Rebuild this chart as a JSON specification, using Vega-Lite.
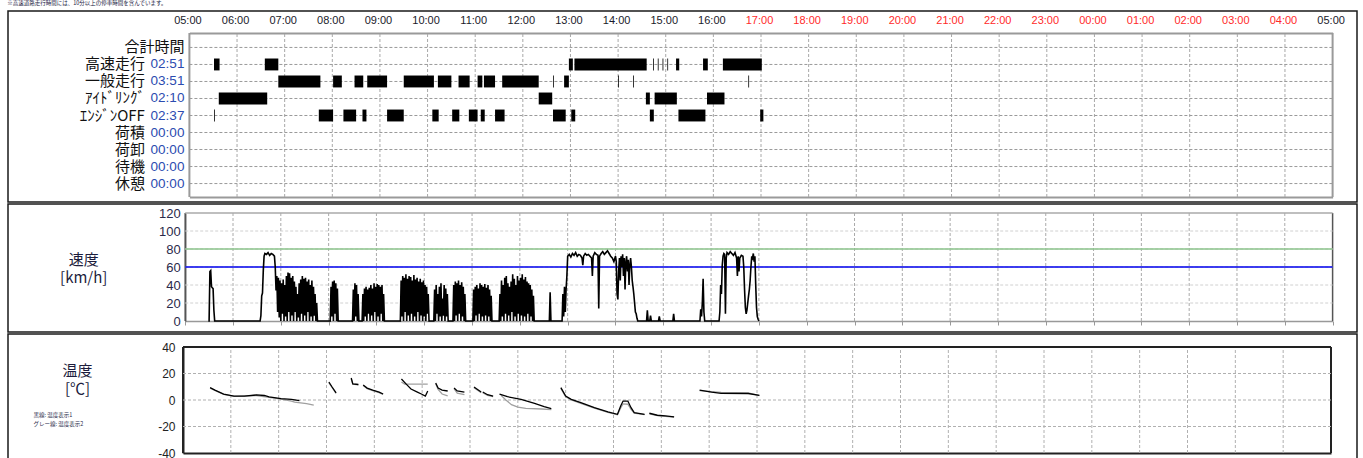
{
  "$schema": "https://vega.github.io/schema/vega-lite/v6.json",
  "padding": {"left": 7, "top": 0, "right": 0, "bottom": 0},
  "title": {"text": "※高速道路走行時間には、10分以上の停車時間を含んでいます。", "fontSize": 5.5, "font": "Noto Sans CJK JP", "fontWeight": "normal", "anchor": "start", "offset": 4, "color": "#202040"},
  "spacing": 0,
  "resolve": {"scale": {"x": "independent", "y": "independent", "color": "independent"}},
  "config": {
    "view": {"stroke": "#1a1a1a", "strokeWidth": 1.5},
    "font": "Liberation Sans",
    "axis": {"labelFont": "Liberation Sans", "titleFont": "Noto Sans CJK JP", "labelOverlap": false, "labelFlush": false, "labelBound": false}
  },
  "datasets": {
    "hours": [
      {"m": 300}, {"m": 360}, {"m": 420}, {"m": 480}, {"m": 540}, {"m": 600}, {"m": 660}, {"m": 720}, {"m": 780}, {"m": 840}, {"m": 900}, {"m": 960}, {"m": 1020},
      {"m": 1080}, {"m": 1140}, {"m": 1200}, {"m": 1260}, {"m": 1320}, {"m": 1380}, {"m": 1440}, {"m": 1500}, {"m": 1560}, {"m": 1620}, {"m": 1680}, {"m": 1740}
    ]
  },
  "vconcat": [
    {
      "width": 1349,
      "height": 191,
      "resolve": {"scale": {"y": "independent"}, "axis": {"x": "independent", "y": "independent"}},
      "layer": [
        {
          "data": {"name": "hours"},
          "mark": {"type": "rule"},
          "encoding": {
            "x": {
              "field": "m", "type": "quantitative",
              "scale": {"domain": [300, 1740], "range": [181.4, 1324.6], "nice": false, "zero": false},
              "axis": {"orient": "bottom", "offset": -5, "title": null, "labels": false, "ticks": false, "grid": false, "domainColor": "#9a9a9a", "domainWidth": 2}
            },
            "y": {"datum": 0, "type": "quantitative", "scale": {"domain": [0, 1], "range": [186, 22], "nice": false}, "axis": null},
            "y2": {"datum": 1},
            "color": {"condition": {"test": "datum.m == 300 || datum.m == 1740", "value": "#9a9a9a"}, "value": "#a8a8a8"},
            "strokeDash": {"condition": {"test": "datum.m == 300 || datum.m == 1740", "value": [1, 0]}, "value": [3, 2]},
            "strokeWidth": {"condition": {"test": "datum.m == 300 || datum.m == 1740", "value": 2}, "value": 1}
          }
        },
        {
          "resolve": {"axis": {"x": "independent", "y": "independent"}},
          "layer": [
            {
              "data": {"values": [
                {"label": "合計時間"},
                {"label": "高速走行 02:51"},
                {"label": "一般走行 03:51"},
                {"label": "ｱｲﾄﾞﾘﾝｸﾞ 02:10"},
                {"label": "ｴﾝｼﾞﾝOFF 02:37"},
                {"label": "荷積 00:00"},
                {"label": "荷卸 00:00"},
                {"label": "待機 00:00"},
                {"label": "休憩 00:00"}
              ]},
              "mark": {"type": "rule", "color": "#9a9a9a", "strokeDash": [3, 2], "strokeWidth": 1},
              "encoding": {
                "y": {
                  "field": "label", "type": "nominal",
                  "scale": {"type": "band", "domain": ["合計時間", "高速走行 02:51", "一般走行 03:51", "ｱｲﾄﾞﾘﾝｸﾞ 02:10", "ｴﾝｼﾞﾝOFF 02:37", "荷積 00:00", "荷卸 00:00", "待機 00:00", "休憩 00:00"], "range": [22.5, 186.5], "paddingInner": 0.3, "paddingOuter": 0.47},
                  "axis": {
                    "orient": "left", "offset": -181.4, "title": null, "domain": false, "ticks": false, "grid": false,
                    "labelPadding": 5.5,
                    "labelExpr": "indexof(datum.value, ' ') > 0 ? split(datum.value, ' ')[1] : datum.value",
                    "labelFont": {"condition": {"test": "indexof(datum.value, ' ') > 0", "value": "Liberation Sans"}, "value": "Noto Sans CJK JP"},
                    "labelFontSize": {"condition": {"test": "indexof(datum.value, ' ') > 0", "value": 13.5}, "value": 15},
                    "labelColor": {"condition": {"test": "indexof(datum.value, ' ') > 0", "value": "#2b4bb0"}, "value": "#111111"}
                  }
                },
                "x": {"datum": 300, "type": "quantitative", "axis": null},
                "x2": {"datum": 1740}
              }
            },
            {
              "data": {
                "values": [
                  {"label": "高速走行 02:51", "from": 331, "to": 338},
                  {"label": "高速走行 02:51", "from": 395, "to": 412},
                  {"label": "高速走行 02:51", "from": 778, "to": 783},
                  {"label": "高速走行 02:51", "from": 785, "to": 876},
                  {"label": "高速走行 02:51", "from": 884, "to": 885},
                  {"label": "高速走行 02:51", "from": 890, "to": 891},
                  {"label": "高速走行 02:51", "from": 896, "to": 897},
                  {"label": "高速走行 02:51", "from": 902, "to": 903},
                  {"label": "高速走行 02:51", "from": 913, "to": 917},
                  {"label": "高速走行 02:51", "from": 947, "to": 953},
                  {"label": "高速走行 02:51", "from": 972, "to": 1021},
                  {"label": "一般走行 03:51", "from": 412, "to": 465},
                  {"label": "一般走行 03:51", "from": 481, "to": 492},
                  {"label": "一般走行 03:51", "from": 508, "to": 519},
                  {"label": "一般走行 03:51", "from": 524, "to": 549},
                  {"label": "一般走行 03:51", "from": 570, "to": 608},
                  {"label": "一般走行 03:51", "from": 613, "to": 630},
                  {"label": "一般走行 03:51", "from": 639, "to": 653},
                  {"label": "一般走行 03:51", "from": 663, "to": 669},
                  {"label": "一般走行 03:51", "from": 671, "to": 685},
                  {"label": "一般走行 03:51", "from": 694, "to": 740},
                  {"label": "一般走行 03:51", "from": 758, "to": 759},
                  {"label": "一般走行 03:51", "from": 772, "to": 778},
                  {"label": "一般走行 03:51", "from": 840, "to": 841},
                  {"label": "一般走行 03:51", "from": 859, "to": 860},
                  {"label": "一般走行 03:51", "from": 1004, "to": 1005},
                  {"label": "ｱｲﾄﾞﾘﾝｸﾞ 02:10", "from": 337, "to": 398},
                  {"label": "ｱｲﾄﾞﾘﾝｸﾞ 02:10", "from": 740, "to": 757},
                  {"label": "ｱｲﾄﾞﾘﾝｸﾞ 02:10", "from": 875, "to": 880},
                  {"label": "ｱｲﾄﾞﾘﾝｸﾞ 02:10", "from": 886, "to": 914},
                  {"label": "ｱｲﾄﾞﾘﾝｸﾞ 02:10", "from": 952, "to": 974},
                  {"label": "ｴﾝｼﾞﾝOFF 02:37", "from": 331, "to": 332},
                  {"label": "ｴﾝｼﾞﾝOFF 02:37", "from": 463, "to": 481},
                  {"label": "ｴﾝｼﾞﾝOFF 02:37", "from": 494, "to": 510},
                  {"label": "ｴﾝｼﾞﾝOFF 02:37", "from": 518, "to": 523},
                  {"label": "ｴﾝｼﾞﾝOFF 02:37", "from": 549, "to": 570},
                  {"label": "ｴﾝｼﾞﾝOFF 02:37", "from": 606, "to": 614},
                  {"label": "ｴﾝｼﾞﾝOFF 02:37", "from": 631, "to": 640},
                  {"label": "ｴﾝｼﾞﾝOFF 02:37", "from": 652, "to": 663},
                  {"label": "ｴﾝｼﾞﾝOFF 02:37", "from": 667, "to": 672},
                  {"label": "ｴﾝｼﾞﾝOFF 02:37", "from": 685, "to": 697},
                  {"label": "ｴﾝｼﾞﾝOFF 02:37", "from": 758, "to": 774},
                  {"label": "ｴﾝｼﾞﾝOFF 02:37", "from": 781, "to": 786},
                  {"label": "ｴﾝｼﾞﾝOFF 02:37", "from": 880, "to": 885},
                  {"label": "ｴﾝｼﾞﾝOFF 02:37", "from": 916, "to": 950},
                  {"label": "ｴﾝｼﾞﾝOFF 02:37", "from": 1019, "to": 1023}
                ]
              },
              "mark": {"type": "bar", "color": "#000000"},
              "encoding": {
                "x": {
                  "field": "from", "type": "quantitative",
                  "axis": {
                    "orient": "top", "offset": -22, "title": null,
                    "values": [300, 360, 420, 480, 540, 600, 660, 720, 780, 840, 900, 960, 1020, 1080, 1140, 1200, 1260, 1320, 1380, 1440, 1500, 1560, 1620, 1680, 1740],
                    "labelExpr": "format(floor(datum.value / 60) % 24, '02d') + ':00'",
                    "ticks": false, "grid": false, "labelPadding": 8, "labelFontSize": 11, "labelOffset": -2,
                    "labelColor": {"condition": {"test": "datum.value >= 1020 && datum.value < 1740", "value": "#ff2a2a"}, "value": "#1a1a2a"},
                    "domainColor": "#9a9a9a", "domainWidth": 2
                  }
                },
                "x2": {"field": "to"},
                "y": {
                  "field": "label", "type": "nominal",
                  "axis": {
                    "orient": "left", "offset": -181.4, "title": null, "domain": false, "ticks": false, "grid": false,
                    "labelPadding": 45,
                    "labelExpr": "indexof(datum.value, ' ') > 0 ? split(datum.value, ' ')[0] : ''",
                    "labelFont": "Noto Sans CJK JP", "labelFontSize": 15, "labelColor": "#111111"
                  }
                }
              }
            }
          ]
        }
      ]
    },
    {
      "width": 1349,
      "height": 128,
      "resolve": {"axis": {"x": "independent", "y": "independent"}},
      "layer": [
        {
          "data": {"name": "hours"},
          "mark": {"type": "rule"},
          "encoding": {
            "x": {
              "field": "m", "type": "quantitative",
              "scale": {"domain": [300, 1740], "range": [177.2, 1324.6], "nice": false, "zero": false},
              "axis": {
                "orient": "bottom", "offset": -11, "title": null, "labels": false, "grid": false,
                "values": [300, 360, 420, 480, 540, 600, 660, 720, 780, 840, 900, 960, 1020, 1080, 1140, 1200, 1260, 1320, 1380, 1440, 1500, 1560, 1620, 1680, 1740],
                "ticks": true, "tickSize": 4, "tickColor": "#999999",
                "domainColor": "#999999", "domainWidth": 1.5
              }
            },
            "y": {"datum": 0, "type": "quantitative", "scale": {"domain": [0, 120], "range": [117, 9], "nice": false}, "axis": null},
            "y2": {"datum": 120},
            "color": {"condition": {"test": "datum.m == 300 || datum.m == 1740", "value": "#555555"}, "value": "#aaaaaa"},
            "strokeDash": {"condition": {"test": "datum.m == 300 || datum.m == 1740", "value": [1, 0]}, "value": [3, 2]},
            "strokeWidth": {"condition": {"test": "datum.m == 300 || datum.m == 1740", "value": 1.5}, "value": 1}
          }
        },
        {
          "data": {"values": [{"v": 20}, {"v": 40}, {"v": 60}, {"v": 80}, {"v": 100}, {"v": 120}]},
          "mark": {"type": "rule"},
          "encoding": {
            "y": {
              "field": "v", "type": "quantitative",
              "axis": {
                "orient": "left", "offset": -177.2, "values": [0, 20, 40, 60, 80, 100, 120], "grid": false,
                "ticks": false, "labelPadding": 5, "labelFontSize": 13, "labelColor": "#2a2a4a",
                "domainColor": "#555555", "domainWidth": 1.5,
                "title": ["速度", "[km/h]"], "titleAngle": 0, "titleAlign": "center", "titleBaseline": "top",
                "titleX": -102, "titleY": 48, "titleFontSize": 15, "titleFontWeight": "normal", "titleLineHeight": 18, "titleColor": "#1c1c3c"
              }
            },
            "x": {"datum": 300, "type": "quantitative", "axis": null},
            "x2": {"datum": 1740},
            "color": {"condition": {"test": "datum.v == 120", "value": "#aaaaaa"}, "value": "#d0d0d0"},
            "strokeDash": {"condition": {"test": "datum.v == 120", "value": [1, 0]}, "value": [3, 2]},
            "strokeWidth": {"condition": {"test": "datum.v == 120", "value": 1.5}, "value": 1}
          }
        },
        {
          "data": {"values": [{"limit": 80}, {"limit": 60}]},
          "mark": {"type": "rule", "strokeWidth": 1.7},
          "encoding": {
            "y": {"field": "limit", "type": "quantitative", "axis": null},
            "x": {"datum": 300, "type": "quantitative", "axis": null},
            "x2": {"datum": 1740},
            "color": {"field": "limit", "type": "nominal", "scale": {"domain": [80, 60], "range": ["#8cc48c", "#0000ee"]}, "legend": null}
          }
        },
        {
          "data": {
            "values": [
              {"m":329,"v":0},{"m":330,"v":0},{"m":331,"v":55},{"m":332,"v":56},{"m":333,"v":38},{"m":334,"v":37},{"m":335,"v":36},{"m":336,"v":12},{"m":337,"v":0},
              {"m":394,"v":0},{"m":395,"v":6},{"m":396,"v":28},{"m":397,"v":31},{"m":398,"v":56},{"m":399,"v":72},{"m":400,"v":75},{"m":402,"v":74},{"m":404,"v":76},{"m":406,"v":73},{"m":408,"v":75},{"m":410,"v":74},{"m":412,"v":72},{"m":413,"v":60},{"m":414,"v":34},{"m":415,"v":50},
              {"m":416,"v":10},{"m":417,"v":48},{"m":418,"v":4},{"m":419,"v":45},{"m":420,"v":0},{"m":421,"v":42},{"m":422,"v":8},{"m":423,"v":46},{"m":424,"v":0},{"m":425,"v":40},{"m":426,"v":5},{"m":427,"v":50},{"m":428,"v":0},{"m":429,"v":54},{"m":430,"v":10},{"m":431,"v":53},{"m":432,"v":0},{"m":433,"v":48},{"m":434,"v":6},{"m":435,"v":50},{"m":436,"v":0},{"m":437,"v":44},{"m":438,"v":10},{"m":439,"v":38},{"m":440,"v":0},{"m":441,"v":30},{"m":442,"v":4},{"m":443,"v":42},{"m":444,"v":0},{"m":445,"v":46},{"m":446,"v":8},{"m":447,"v":50},{"m":448,"v":0},{"m":449,"v":47},{"m":450,"v":6},{"m":451,"v":48},{"m":452,"v":0},{"m":453,"v":44},{"m":454,"v":10},{"m":455,"v":46},{"m":456,"v":0},{"m":457,"v":40},{"m":458,"v":5},{"m":459,"v":45},{"m":460,"v":0},{"m":461,"v":38},{"m":462,"v":6},{"m":463,"v":30},{"m":464,"v":0},{"m":465,"v":20},{"m":466,"v":0},
              {"m":482,"v":0},{"m":483,"v":38},{"m":484,"v":5},{"m":485,"v":44},{"m":486,"v":0},{"m":487,"v":45},{"m":488,"v":8},{"m":489,"v":42},{"m":490,"v":0},{"m":491,"v":36},{"m":492,"v":0},
              {"m":510,"v":0},{"m":511,"v":35},{"m":512,"v":0},{"m":513,"v":42},{"m":514,"v":5},{"m":515,"v":40},{"m":516,"v":0},{"m":517,"v":30},{"m":518,"v":0},
              {"m":522,"v":0},{"m":523,"v":30},{"m":524,"v":0},{"m":525,"v":36},{"m":526,"v":5},{"m":527,"v":38},{"m":528,"v":0},{"m":529,"v":35},{"m":530,"v":8},{"m":531,"v":37},{"m":532,"v":0},{"m":533,"v":40},{"m":534,"v":6},{"m":535,"v":36},{"m":536,"v":0},{"m":537,"v":42},{"m":538,"v":10},{"m":539,"v":38},{"m":540,"v":0},{"m":541,"v":41},{"m":542,"v":5},{"m":543,"v":40},{"m":544,"v":0},{"m":545,"v":38},{"m":546,"v":8},{"m":547,"v":40},{"m":548,"v":0},{"m":549,"v":30},{"m":550,"v":0},
              {"m":570,"v":0},{"m":571,"v":45},{"m":572,"v":5},{"m":573,"v":50},{"m":574,"v":0},{"m":575,"v":48},{"m":576,"v":10},{"m":577,"v":52},{"m":578,"v":0},{"m":579,"v":47},{"m":580,"v":6},{"m":581,"v":50},{"m":582,"v":0},{"m":583,"v":49},{"m":584,"v":8},{"m":585,"v":45},{"m":586,"v":0},{"m":587,"v":51},{"m":588,"v":5},{"m":589,"v":46},{"m":590,"v":0},{"m":591,"v":48},{"m":592,"v":10},{"m":593,"v":44},{"m":594,"v":0},{"m":595,"v":47},{"m":596,"v":6},{"m":597,"v":43},{"m":598,"v":0},{"m":599,"v":45},{"m":600,"v":5},{"m":601,"v":40},{"m":602,"v":0},{"m":603,"v":38},{"m":604,"v":8},{"m":605,"v":30},{"m":606,"v":0},
              {"m":612,"v":0},{"m":613,"v":35},{"m":614,"v":0},{"m":615,"v":40},{"m":616,"v":8},{"m":617,"v":30},{"m":618,"v":0},{"m":619,"v":38},{"m":620,"v":5},{"m":621,"v":42},{"m":622,"v":0},{"m":623,"v":25},{"m":624,"v":6},{"m":625,"v":40},{"m":626,"v":0},{"m":627,"v":36},{"m":628,"v":5},{"m":629,"v":30},{"m":630,"v":0},
              {"m":636,"v":0},{"m":637,"v":40},{"m":638,"v":0},{"m":639,"v":44},{"m":640,"v":6},{"m":641,"v":42},{"m":642,"v":0},{"m":643,"v":45},{"m":644,"v":8},{"m":645,"v":40},{"m":646,"v":0},{"m":647,"v":43},{"m":648,"v":5},{"m":649,"v":38},{"m":650,"v":0},{"m":651,"v":30},{"m":652,"v":0},
              {"m":661,"v":0},{"m":662,"v":35},{"m":663,"v":0},{"m":664,"v":38},{"m":665,"v":6},{"m":666,"v":40},{"m":667,"v":0},{"m":668,"v":36},{"m":669,"v":8},{"m":670,"v":42},{"m":671,"v":0},{"m":672,"v":40},{"m":673,"v":5},{"m":674,"v":38},{"m":675,"v":0},{"m":676,"v":41},{"m":677,"v":6},{"m":678,"v":37},{"m":679,"v":0},{"m":680,"v":40},{"m":681,"v":5},{"m":682,"v":35},{"m":683,"v":0},{"m":684,"v":28},{"m":685,"v":0},
              {"m":694,"v":0},{"m":695,"v":30},{"m":696,"v":0},{"m":697,"v":45},{"m":698,"v":5},{"m":699,"v":40},{"m":700,"v":0},{"m":701,"v":48},{"m":702,"v":8},{"m":703,"v":50},{"m":704,"v":0},{"m":705,"v":42},{"m":706,"v":6},{"m":707,"v":38},{"m":708,"v":0},{"m":709,"v":44},{"m":710,"v":10},{"m":711,"v":52},{"m":712,"v":0},{"m":713,"v":47},{"m":714,"v":5},{"m":715,"v":40},{"m":716,"v":0},{"m":717,"v":50},{"m":718,"v":8},{"m":719,"v":45},{"m":720,"v":0},{"m":721,"v":48},{"m":722,"v":6},{"m":723,"v":52},{"m":724,"v":0},{"m":725,"v":46},{"m":726,"v":5},{"m":727,"v":49},{"m":728,"v":0},{"m":729,"v":44},{"m":730,"v":8},{"m":731,"v":42},{"m":732,"v":0},{"m":733,"v":40},{"m":734,"v":5},{"m":735,"v":35},{"m":736,"v":0},{"m":737,"v":28},{"m":738,"v":0},
              {"m":757,"v":0},{"m":758,"v":32},{"m":759,"v":0},
              {"m":773,"v":0},{"m":774,"v":30},{"m":775,"v":5},{"m":776,"v":38},{"m":777,"v":10},{"m":778,"v":35},{"m":779,"v":50},{"m":780,"v":72},{"m":782,"v":74},{"m":784,"v":71},{"m":786,"v":75},{"m":788,"v":73},{"m":790,"v":76},{"m":792,"v":72},{"m":794,"v":74},{"m":796,"v":73},{"m":798,"v":70},{"m":799,"v":62},{"m":800,"v":72},{"m":802,"v":75},{"m":804,"v":73},{"m":806,"v":74},{"m":808,"v":72},{"m":810,"v":70},{"m":811,"v":50},{"m":812,"v":72},{"m":814,"v":76},{"m":816,"v":74},{"m":818,"v":73},{"m":819,"v":14},{"m":820,"v":72},{"m":822,"v":75},{"m":824,"v":77},{"m":826,"v":74},{"m":828,"v":76},{"m":830,"v":78},{"m":832,"v":75},{"m":834,"v":72},{"m":836,"v":70},{"m":838,"v":66},{"m":840,"v":72},{"m":841,"v":66},{"m":842,"v":30},{"m":843,"v":24},{"m":844,"v":55},{"m":845,"v":70},{"m":846,"v":45},{"m":847,"v":72},{"m":848,"v":60},{"m":849,"v":74},{"m":850,"v":50},{"m":851,"v":70},{"m":852,"v":35},{"m":853,"v":65},{"m":854,"v":72},{"m":855,"v":55},{"m":856,"v":68},{"m":857,"v":40},{"m":858,"v":62},{"m":859,"v":70},{"m":860,"v":60},{"m":861,"v":45},{"m":862,"v":38},{"m":863,"v":30},{"m":864,"v":20},{"m":865,"v":10},{"m":866,"v":8},{"m":867,"v":3},{"m":868,"v":0},
              {"m":879,"v":0},{"m":880,"v":12},{"m":881,"v":0},{"m":883,"v":0},{"m":884,"v":6},{"m":885,"v":0},{"m":894,"v":0},{"m":895,"v":5},{"m":896,"v":0},{"m":912,"v":0},{"m":913,"v":8},{"m":914,"v":0},
              {"m":946,"v":0},{"m":947,"v":13},{"m":948,"v":5},{"m":949,"v":20},{"m":950,"v":47},{"m":951,"v":10},{"m":952,"v":0},
              {"m":970,"v":0},{"m":971,"v":10},{"m":972,"v":40},{"m":973,"v":30},{"m":974,"v":62},{"m":975,"v":72},{"m":976,"v":75},{"m":977,"v":74},{"m":978,"v":8},{"m":979,"v":70},{"m":980,"v":76},{"m":982,"v":74},{"m":984,"v":77},{"m":986,"v":75},{"m":988,"v":73},{"m":990,"v":76},{"m":992,"v":70},{"m":993,"v":50},{"m":994,"v":72},{"m":995,"v":55},{"m":996,"v":70},{"m":998,"v":73},{"m":1000,"v":72},{"m":1001,"v":60},{"m":1002,"v":35},{"m":1003,"v":15},{"m":1004,"v":8},{"m":1005,"v":12},{"m":1006,"v":20},{"m":1007,"v":28},{"m":1008,"v":35},{"m":1009,"v":45},{"m":1010,"v":60},{"m":1011,"v":72},{"m":1012,"v":70},{"m":1013,"v":75},{"m":1014,"v":66},{"m":1015,"v":72},{"m":1016,"v":40},{"m":1017,"v":15},{"m":1018,"v":5},{"m":1019,"v":2},{"m":1020,"v":0}
            ]
          },
          "mark": {"type": "line", "color": "#000000", "strokeWidth": 1.6},
          "encoding": {
            "x": {"field": "m", "type": "quantitative", "axis": null},
            "y": {"field": "v", "type": "quantitative", "axis": null}
          }
        }
      ]
    },
    {
      "width": 1349,
      "height": 129,
      "resolve": {"axis": {"x": "independent", "y": "independent"}},
      "layer": [
        {
          "data": {"name": "hours"},
          "mark": {"type": "rule"},
          "encoding": {
            "x": {
              "field": "m", "type": "quantitative",
              "scale": {"domain": [300, 1740], "range": [175, 1323], "nice": false, "zero": false},
              "axis": {"orient": "bottom", "offset": -10, "title": null, "labels": false, "ticks": false, "grid": false, "domainColor": "#222222", "domainWidth": 2}
            },
            "y": {"datum": -40, "type": "quantitative", "scale": {"domain": [-40, 40], "range": [119, 13], "nice": false, "zero": false}, "axis": null},
            "y2": {"datum": 40},
            "color": {"condition": {"test": "datum.m == 300 || datum.m == 1740", "value": "#222222"}, "value": "#b0b0b0"},
            "strokeDash": {"condition": {"test": "datum.m == 300 || datum.m == 1740", "value": [1, 0]}, "value": [3, 2]},
            "strokeWidth": {"condition": {"test": "datum.m == 300 || datum.m == 1740", "value": 2}, "value": 1}
          }
        },
        {
          "data": {"values": [{"v": -20}, {"v": 0}, {"v": 20}, {"v": 40}]},
          "mark": {"type": "rule"},
          "encoding": {
            "y": {
              "field": "v", "type": "quantitative",
              "axis": {
                "orient": "left", "offset": -175, "values": [-40, -20, 0, 20, 40], "grid": false,
                "labelExpr": "'' + datum.value",
                "ticks": false, "labelPadding": 8, "labelFontSize": 12, "labelColor": "#222222",
                "domainColor": "#222222", "domainWidth": 2,
                "title": ["温度", "[℃]"], "titleAngle": 0, "titleAlign": "center", "titleBaseline": "top",
                "titleX": -106, "titleY": 29, "titleFontSize": 15, "titleFontWeight": "normal", "titleLineHeight": 18, "titleColor": "#1c1c3c"
              }
            },
            "x": {"datum": 300, "type": "quantitative", "axis": null},
            "x2": {"datum": 1740},
            "color": {"condition": {"test": "datum.v == 40", "value": "#222222"}, "value": "#b0b0b0"},
            "strokeDash": {"condition": {"test": "datum.v == 40", "value": [1, 0]}, "value": [3, 2]},
            "strokeWidth": {"condition": {"test": "datum.v == 40", "value": 2}, "value": 1}
          }
        },
        {
          "data": {
            "values": [
              {"s":"温度表示2","seg":1,"m":334,"v":9.0},{"s":"温度表示2","seg":1,"m":351,"v":4.2},{"s":"温度表示2","seg":1,"m":364,"v":2.8},{"s":"温度表示2","seg":1,"m":392,"v":3.4},{"s":"温度表示2","seg":1,"m":408,"v":2.0},{"s":"温度表示2","seg":1,"m":423,"v":0.6},{"s":"温度表示2","seg":1,"m":436,"v":-0.8},{"s":"温度表示2","seg":1,"m":440,"v":-1.6},{"s":"温度表示2","seg":1,"m":455,"v":-2.8},{"s":"温度表示2","seg":1,"m":464,"v":-3.9},
              {"s":"温度表示2","seg":2,"m":483,"v":13.0},{"s":"温度表示2","seg":2,"m":487,"v":9.5},{"s":"温度表示2","seg":2,"m":492,"v":5.0},
              {"s":"温度表示2","seg":3,"m":511,"v":16.0},{"s":"温度表示2","seg":3,"m":513,"v":12.0},{"s":"温度表示2","seg":3,"m":520,"v":11.5},
              {"s":"温度表示2","seg":4,"m":526,"v":11.0},{"s":"温度表示2","seg":4,"m":531,"v":8.6},{"s":"温度表示2","seg":4,"m":538,"v":7.0},{"s":"温度表示2","seg":4,"m":546,"v":5.6},{"s":"温度表示2","seg":4,"m":551,"v":4.2},
              {"s":"温度表示2","seg":5,"m":574,"v":13.6},{"s":"温度表示2","seg":5,"m":578,"v":12.0},{"s":"温度表示2","seg":5,"m":607,"v":12.0},
              {"s":"温度表示2","seg":6,"m":617,"v":12.3},{"s":"温度表示2","seg":6,"m":620,"v":8.0},{"s":"温度表示2","seg":6,"m":625,"v":4.5},{"s":"温度表示2","seg":6,"m":632,"v":3.2},
              {"s":"温度表示2","seg":7,"m":640,"v":8.5},{"s":"温度表示2","seg":7,"m":644,"v":5.2},{"s":"温度表示2","seg":7,"m":653,"v":4.0},
              {"s":"温度表示2","seg":8,"m":665,"v":9.3},{"s":"温度表示2","seg":8,"m":674,"v":5.5},
              {"s":"温度表示2","seg":9,"m":676,"v":5.5},{"s":"温度表示2","seg":9,"m":682,"v":3.5},{"s":"温度表示2","seg":9,"m":689,"v":2.5},
              {"s":"温度表示2","seg":10,"m":699,"v":3.5},{"s":"温度表示2","seg":10,"m":705,"v":0.0},{"s":"温度表示2","seg":10,"m":712,"v":-3.5},{"s":"温度表示2","seg":10,"m":720,"v":-5.3},{"s":"温度表示2","seg":10,"m":730,"v":-6.3},{"s":"温度表示2","seg":10,"m":750,"v":-6.8},{"s":"温度表示2","seg":10,"m":762,"v":-7.2},
              {"s":"温度表示2","seg":11,"m":774,"v":8.8},{"s":"温度表示2","seg":11,"m":780,"v":2.5},{"s":"温度表示2","seg":11,"m":787,"v":0.0},{"s":"温度表示2","seg":11,"m":799,"v":-2.5},{"s":"温度表示2","seg":11,"m":816,"v":-6.2},{"s":"温度表示2","seg":11,"m":833,"v":-9.4},{"s":"温度表示2","seg":11,"m":845,"v":-11.2},{"s":"温度表示2","seg":11,"m":849,"v":-6.0},{"s":"温度表示2","seg":11,"m":852,"v":-3.0},{"s":"温度表示2","seg":11,"m":858,"v":-3.2},{"s":"温度表示2","seg":11,"m":862,"v":-7.0},{"s":"温度表示2","seg":11,"m":866,"v":-10.0},{"s":"温度表示2","seg":11,"m":879,"v":-11.0},
              {"s":"温度表示2","seg":12,"m":885,"v":-10.4},{"s":"温度表示2","seg":12,"m":895,"v":-11.8},{"s":"温度表示2","seg":12,"m":905,"v":-12.3},{"s":"温度表示2","seg":12,"m":916,"v":-13.0},
              {"s":"温度表示2","seg":13,"m":948,"v":7.0},{"s":"温度表示2","seg":13,"m":963,"v":6.3},{"s":"温度表示2","seg":13,"m":975,"v":5.7},{"s":"温度表示2","seg":13,"m":1009,"v":5.4},{"s":"温度表示2","seg":13,"m":1023,"v":3.3},
              {"s":"温度表示1","seg":1,"m":334,"v":9.3},{"s":"温度表示1","seg":1,"m":340,"v":7.5},{"s":"温度表示1","seg":1,"m":351,"v":4.5},{"s":"温度表示1","seg":1,"m":364,"v":3.0},{"s":"温度表示1","seg":1,"m":377,"v":3.0},{"s":"温度表示1","seg":1,"m":392,"v":3.8},{"s":"温度表示1","seg":1,"m":402,"v":3.4},{"s":"温度表示1","seg":1,"m":408,"v":2.3},{"s":"温度表示1","seg":1,"m":423,"v":1.1},{"s":"温度表示1","seg":1,"m":436,"v":0.4},{"s":"温度表示1","seg":1,"m":446,"v":-0.4},
              {"s":"温度表示1","seg":2,"m":483,"v":13.6},{"s":"温度表示1","seg":2,"m":487,"v":9.8},{"s":"温度表示1","seg":2,"m":492,"v":5.3},
              {"s":"温度表示1","seg":3,"m":511,"v":16.6},{"s":"温度表示1","seg":3,"m":513,"v":12.1},{"s":"温度表示1","seg":3,"m":520,"v":11.7},
              {"s":"温度表示1","seg":4,"m":526,"v":11.3},{"s":"温度表示1","seg":4,"m":531,"v":9.0},{"s":"温度表示1","seg":4,"m":538,"v":7.5},{"s":"温度表示1","seg":4,"m":546,"v":6.0},{"s":"温度表示1","seg":4,"m":551,"v":4.5},
              {"s":"温度表示1","seg":5,"m":574,"v":15.8},{"s":"温度表示1","seg":5,"m":580,"v":12.0},{"s":"温度表示1","seg":5,"m":586,"v":8.3},{"s":"温度表示1","seg":5,"m":594,"v":6.0},{"s":"温度表示1","seg":5,"m":599,"v":4.5},{"s":"温度表示1","seg":5,"m":604,"v":3.0},{"s":"温度表示1","seg":5,"m":607,"v":6.8},
              {"s":"温度表示1","seg":6,"m":617,"v":12.8},{"s":"温度表示1","seg":6,"m":620,"v":9.0},{"s":"温度表示1","seg":6,"m":625,"v":7.5},{"s":"温度表示1","seg":6,"m":632,"v":6.8},
              {"s":"温度表示1","seg":7,"m":640,"v":9.0},{"s":"温度表示1","seg":7,"m":644,"v":6.8},{"s":"温度表示1","seg":7,"m":653,"v":6.0},
              {"s":"温度表示1","seg":8,"m":665,"v":9.8},{"s":"温度表示1","seg":8,"m":674,"v":6.0},
              {"s":"温度表示1","seg":9,"m":676,"v":6.0},{"s":"温度表示1","seg":9,"m":682,"v":4.0},{"s":"温度表示1","seg":9,"m":689,"v":3.0},
              {"s":"温度表示1","seg":10,"m":697,"v":4.5},{"s":"温度表示1","seg":10,"m":707,"v":2.5},{"s":"温度表示1","seg":10,"m":724,"v":0.5},{"s":"温度表示1","seg":10,"m":741,"v":-2.5},{"s":"温度表示1","seg":10,"m":753,"v":-5.0},{"s":"温度表示1","seg":10,"m":762,"v":-6.5},
              {"s":"温度表示1","seg":11,"m":774,"v":9.3},{"s":"温度表示1","seg":11,"m":780,"v":3.0},{"s":"温度表示1","seg":11,"m":787,"v":0.5},{"s":"温度表示1","seg":11,"m":799,"v":-2.0},{"s":"温度表示1","seg":11,"m":816,"v":-5.8},{"s":"温度表示1","seg":11,"m":833,"v":-9.0},{"s":"温度表示1","seg":11,"m":845,"v":-10.8},{"s":"温度表示1","seg":11,"m":849,"v":-4.5},{"s":"温度表示1","seg":11,"m":852,"v":-0.8},{"s":"温度表示1","seg":11,"m":858,"v":-0.8},{"s":"温度表示1","seg":11,"m":862,"v":-5.8},{"s":"温度表示1","seg":11,"m":866,"v":-9.6},{"s":"温度表示1","seg":11,"m":879,"v":-10.8},
              {"s":"温度表示1","seg":12,"m":885,"v":-10.0},{"s":"温度表示1","seg":12,"m":895,"v":-11.5},{"s":"温度表示1","seg":12,"m":905,"v":-12.0},{"s":"温度表示1","seg":12,"m":916,"v":-12.8},
              {"s":"温度表示1","seg":13,"m":948,"v":7.5},{"s":"温度表示1","seg":13,"m":963,"v":6.0},{"s":"温度表示1","seg":13,"m":975,"v":5.0},{"s":"温度表示1","seg":13,"m":1009,"v":4.9},{"s":"温度表示1","seg":13,"m":1023,"v":3.5}
            ]
          },
          "mark": {"type": "line", "strokeWidth": 1.3},
          "encoding": {
            "x": {"field": "m", "type": "quantitative", "axis": null},
            "y": {"field": "v", "type": "quantitative", "axis": null},
            "color": {
              "field": "s", "type": "nominal",
              "scale": {"domain": ["温度表示1", "温度表示2"], "range": ["#000000", "#a0a0a0"]},
              "legend": {
                "orient": "none", "legendX": 20, "legendY": 78, "title": null, "padding": 0,
                "labelExpr": "(datum.label == '温度表示1' ? '黒線' : 'グレー線') + ':  ' + datum.label",
                "symbolSize": 0, "symbolOpacity": 0, "symbolStrokeWidth": 0,
                "labelFont": "Noto Sans CJK JP", "labelFontSize": 5.5, "labelColor": "#2a2a4a",
                "labelOffset": 0, "rowPadding": 2.5
              }
            },
            "detail": {"field": "seg", "type": "nominal"}
          }
        }
      ]
    }
  ]
}
